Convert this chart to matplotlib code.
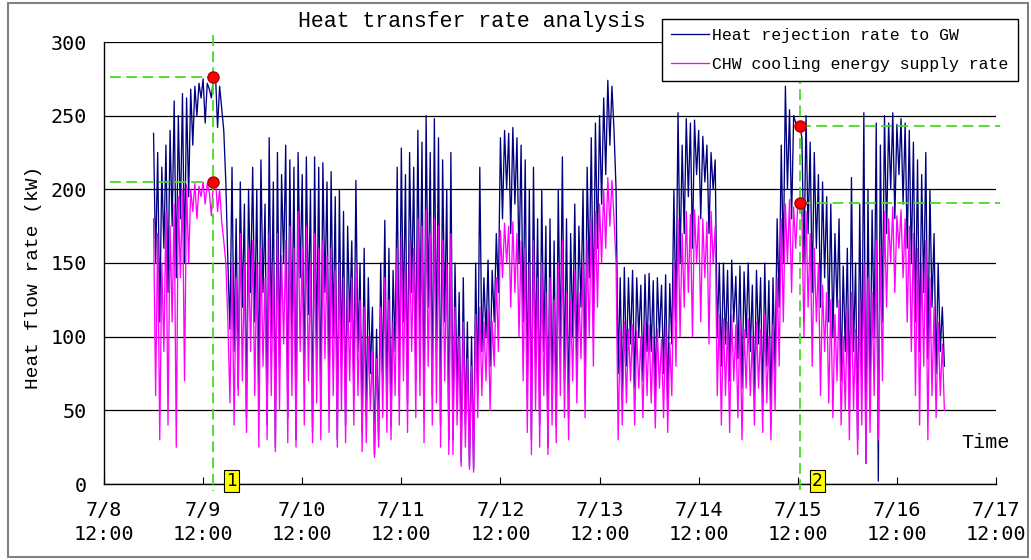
import matplotlib
matplotlib.use('Agg')
from matplotlib import pyplot as plt
from matplotlib.patches import Rectangle
import pandas as pd

# half-hourly readings, one list per day (7/9 .. 7/16), kW
gw_day1 = [238, 150, 225, 110, 215, 160, 230, 130, 240, 175, 260, 140,
           250, 180, 265, 150, 262, 195, 268, 230, 270, 250, 272, 262,
           275, 245, 272, 268, 262, 276, 278, 242, 270, 255, 240, 205,
           150, 105, 215, 90, 180, 65, 205, 120, 190, 45, 200, 130]
gw_day2 = [215, 110, 200, 60, 220, 130, 190, 40, 235, 100, 205, 25,
           225, 80, 210, 150, 230, 45, 220, 95, 215, 30, 225, 140,
           210, 70, 222, 115, 200, 35, 222, 90, 215, 50, 218, 130,
           205, 60, 212, 100, 195, 30, 200, 80, 185, 40, 175, 110]
gw_day3 = [165, 60, 206, 90, 150, 35, 160, 45, 140, 75, 120, 20,
           105, 30, 150, 70, 179, 55, 160, 40, 145, 90, 215, 60,
           228, 110, 210, 55, 225, 130, 215, 70, 240, 100, 232, 45,
           250, 120, 225, 60, 248, 90, 235, 40, 220, 110, 200, 30]
gw_day4 = [225, 30, 150, 60, 130, 15, 140, 40, 110, 12, 100, 10,
           150, 60, 215, 90, 140, 100, 152, 80, 145, 110, 170, 130,
           235, 180, 240, 200, 238, 170, 242, 190, 235, 150, 230, 110,
           220, 60, 200, 30, 215, 80, 180, 40, 200, 90, 175, 25]
gw_day5 = [180, 60, 165, 40, 200, 90, 222, 70, 180, 45, 170, 100,
           190, 80, 175, 120, 200, 65, 215, 140, 235, 110, 245, 160,
           250, 190, 262, 210, 274, 230, 270, 240, 200, 75, 140, 60,
           147, 80, 140, 95, 145, 65, 140, 100, 135, 70, 142, 90]
gw_day6 = [143, 90, 138, 60, 140, 100, 135, 75, 142, 55, 136, 95,
           200, 110, 252, 150, 230, 170, 248, 195, 245, 160, 247, 210,
           240, 180, 236, 205, 230, 170, 225, 200, 220, 100, 150, 80,
           150, 95, 145, 70, 152, 110, 141, 85, 148, 65, 144, 100]
gw_day7 = [150, 90, 135, 60, 145, 95, 140, 55, 150, 80, 138, 50,
           140, 75, 180, 120, 230, 150, 270, 200, 254, 180, 250, 245,
           240, 243, 235, 150, 250, 170, 232, 130, 225, 160, 210, 120,
           205, 140, 195, 110, 190, 100, 170, 120, 180, 70, 148, 90]
gw_day8 = [160, 50, 208, 90, 150, 30, 190, 70, 252, 14, 200, 60,
           186, 100, 245, 2, 230, 110, 250, 170, 245, 200, 252, 180,
           244, 210, 248, 190, 245, 160, 240, 150, 232, 110, 220, 90,
           210, 130, 225, 85, 200, 120, 170, 75, 150, 90, 120, 80]

chw_day1 = [180, 60, 170, 30, 150, 90, 185, 40, 175, 110, 190, 25,
            195, 140, 200, 70, 203, 150, 200, 185, 204, 180, 202, 195,
            205, 190, 204, 198, 182, 205, 207, 185, 200, 178, 165, 150,
            110, 55, 150, 40, 140, 60, 170, 70, 150, 35, 160, 90]
chw_day2 = [165, 60, 150, 25, 160, 80, 140, 30, 170, 60, 150, 22,
            170, 50, 155, 95, 165, 28, 175, 60, 160, 25, 185, 90,
            160, 40, 175, 70, 150, 28, 170, 55, 160, 30, 165, 85,
            155, 35, 160, 60, 145, 25, 150, 50, 140, 28, 130, 70]
chw_day3 = [140, 40, 150, 60, 125, 22, 120, 28, 100, 50, 90, 18,
            85, 25, 120, 45, 140, 35, 125, 30, 110, 60, 160, 40,
            168, 70, 150, 35, 165, 90, 160, 45, 180, 60, 175, 28,
            186, 80, 170, 40, 180, 55, 175, 25, 165, 70, 150, 20]
chw_day4 = [170, 20, 120, 40, 100, 12, 110, 25, 85, 10, 80, 8,
            115, 45, 120, 60, 110, 70, 118, 50, 110, 80, 140, 90,
            172, 140, 177, 150, 175, 120, 178, 130, 170, 100, 165, 70,
            160, 35, 150, 20, 165, 50, 140, 25, 150, 60, 130, 20]
chw_day5 = [140, 40, 125, 28, 150, 60, 165, 45, 130, 30, 125, 70,
            145, 55, 130, 85, 150, 45, 165, 100, 180, 80, 185, 120,
            190, 150, 200, 160, 208, 175, 206, 180, 150, 30, 105, 40,
            110, 55, 105, 70, 108, 40, 104, 65, 100, 45, 110, 60]
chw_day6 = [108, 55, 100, 38, 105, 65, 98, 45, 108, 35, 96, 60,
            150, 80, 180, 100, 170, 120, 185, 130, 183, 100, 186, 150,
            182, 110, 180, 140, 178, 95, 185, 150, 175, 60, 115, 40,
            112, 60, 110, 35, 115, 70, 108, 45, 112, 30, 105, 65]
chw_day7 = [112, 60, 100, 40, 110, 65, 105, 35, 115, 55, 100, 30,
            108, 50, 140, 80, 180, 110, 190, 150, 193, 130, 188, 160,
            190, 191, 182, 100, 185, 120, 170, 80, 160, 110, 150, 60,
            135, 90, 130, 55, 125, 45, 115, 70, 125, 40, 100, 50]
chw_day8 = [120, 30, 130, 50, 105, 20, 125, 40, 150, 14, 140, 35,
            130, 60, 165, 30, 160, 70, 185, 120, 180, 150, 188, 130,
            182, 160, 186, 140, 180, 110, 175, 90, 170, 60, 160, 40,
            150, 80, 165, 30, 140, 60, 120, 45, 110, 60, 95, 50]

gw = gw_day1 + gw_day2 + gw_day3 + gw_day4 + gw_day5 + gw_day6 + gw_day7 + gw_day8
chw = chw_day1 + chw_day2 + chw_day3 + chw_day4 + chw_day5 + chw_day6 + chw_day7 + chw_day8

# marked points
mark_times = ['2010-07-09 14:30', '2010-07-15 12:30']
mark_gw = [276, 243]
mark_chw = [205, 191]
mark_labels = ['1', '2']

tick_dates = ['2010-07-%02d 12:00' % d for d in range(8, 18)]
tick_labels = ['7/%d\n12:00' % d for d in range(8, 18)]

times = pd.date_range('2010-07-09 00:00', periods=len(gw), freq='30min')

W, H = 1031, 560
fig = plt.figure(figsize=(W / 100, H / 100), dpi=100)
ax = fig.add_axes([104 / W, 76 / H, 892 / W, 442 / H])

ax.plot(times, gw, color='#000080', lw=0.95, label='Heat rejection rate to GW', zorder=3)
ax.plot(times, chw, color='#ff00ff', lw=0.95, label='CHW cooling energy supply rate', zorder=4)

ax.set_xlim(pd.Timestamp(tick_dates[0]), pd.Timestamp(tick_dates[-1]))
ax.set_ylim(0, 300)
ax.set_yticks(range(0, 301, 50))
ax.set_xticks([pd.Timestamp(t) for t in tick_dates])
ax.set_xticklabels(tick_labels, linespacing=1.35)
ax.yaxis.grid(True, color='black', lw=0.9)
ax.set_axisbelow(True)
for s in ['top', 'right']:
    ax.spines[s].set_visible(False)
ax.spines['left'].set_linewidth(1.0)
ax.spines['bottom'].set_linewidth(1.0)
ax.tick_params(axis='x', direction='in', length=5, pad=12, labelsize=14.5)
ax.tick_params(axis='y', length=0, pad=12, labelsize=14.5)
for lab in ax.get_xticklabels() + ax.get_yticklabels():
    lab.set_fontfamily('DejaVu Sans Mono')

ax.set_ylabel('Heat flow rate (kW)', family='Liberation Mono', fontsize=14)
ax.yaxis.set_label_coords(-0.07, 0.468)

# guide lines at the marked points
green = '#44dd22'
dash = (0, (6, 3))
x_left = pd.Timestamp('2010-07-08 13:30')
x_right = pd.Timestamp('2010-07-17 13:00')
for i, t in enumerate(mark_times):
    tt = pd.Timestamp(t)
    top = 305 if i == 0 else 279
    ax.plot([tt, tt], [top, -5], color=green, lw=1.3, ls=dash, clip_on=False, zorder=5)
    for v in (mark_gw[i], mark_chw[i]):
        if i == 0:
            ax.plot([x_left, tt], [v, v], color=green, lw=1.3, ls=dash, clip_on=False, zorder=5)
        else:
            ax.plot([tt, x_right], [v, v], color=green, lw=1.3, ls=dash, clip_on=False, zorder=5)
    ax.plot([tt, tt], [mark_gw[i], mark_chw[i]], 'o', ms=8, mfc='red', mec='#aa0000',
            mew=1, zorder=6, clip_on=False)
    ax.text(tt + pd.Timedelta(hours=4.3), 2, mark_labels[i], ha='center', va='center',
            fontsize=12.5, family='DejaVu Sans', zorder=7, clip_on=False,
            bbox=dict(boxstyle='square,pad=0.12', fc='#ffff00', ec='black', lw=0.8))

fig.text(472 / W, 1 - 22 / H, 'Heat transfer rate analysis', ha='center', va='center',
         family='Liberation Mono', fontsize=15.5)
fig.text(985 / W, 1 - 443 / H, 'Time', ha='center', va='center',
         family='Liberation Mono', fontsize=14.5)

leg = ax.legend(loc='upper left', bbox_to_anchor=(662 / W, 1 - 19 / H),
                bbox_transform=fig.transFigure, prop={'family': 'Liberation Mono', 'size': 11.9},
                frameon=True, fancybox=False, edgecolor='black', framealpha=1,
                handlelength=2.3, handletextpad=0.2, labelspacing=0.85,
                borderpad=0.55, borderaxespad=0)
leg.get_frame().set_linewidth(1.0)
leg.set_zorder(8)

fig.patches.append(Rectangle((8 / W, 3 / H), 1020 / W, 554 / H, transform=fig.transFigure,
                             fill=False, ec='#808080', lw=1.5))

fig.savefig('out.png', dpi=100)
